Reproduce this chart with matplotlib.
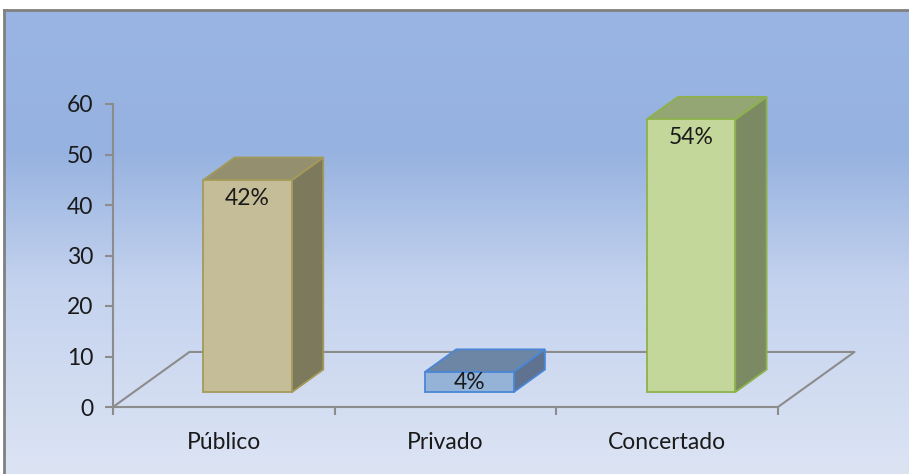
import numpy as np
import matplotlib.pyplot as plt
from matplotlib.colors import LinearSegmentedColormap

# data
categories = ['Público', 'Privado', 'Concertado']
values = [42, 4, 54]
labels = ['42%', '4%', '54%']
yticks = [0, 10, 20, 30, 40, 50, 60]

front_colors = ['#C4BD97', '#95B3D7', '#C4D79B']
top_colors = ['#948F6E', '#6E86A6', '#94A674']
side_colors = ['#7C795C', '#5F7391', '#7B8A62']
edge_colors = ['#A39A5A', '#4A86D6', '#8DB24C']

plt.rcParams['font.family'] = ['Lato', 'DejaVu Sans']

W, H = 909, 474
fig = plt.figure(figsize=(W / 100, H / 100), dpi=100)

# background with gradient and grey frame
bg = fig.add_axes([4 / W, 0, 1 - 4 / W, 1 - 10 / H])
cmap = LinearSegmentedColormap.from_list(
    'bg', [(0, '#9AB5E3'), (0.3, '#96B2E0'), (0.6, '#C5D3EE'), (1.0, '#DCE4F4')])
grad = np.linspace(0, 1, 256).reshape(-1, 1)
bg.imshow(grad, aspect='auto', cmap=cmap, extent=[0, 1, 0, 1], origin='upper')
bg.set_xlim(0, 1)
bg.set_ylim(0, 1)
bg.set_xticks([])
bg.set_yticks([])
for s in ['right', 'bottom']:
    bg.spines[s].set_visible(False)
for s in ['left', 'top']:
    bg.spines[s].set_color('#808080')
    bg.spines[s].set_linewidth(2)

# main axes: x -0.5..2.5 -> px 113..778, y 0..60 -> px 407..104
ax = fig.add_axes([113 / W, (H - 407) / H, 665 / W, 303 / H])
ax.patch.set_visible(False)
ax.set_xlim(-0.5, 2.5)
ax.set_ylim(0, 60)

# oblique depth (full floor depth, in data units)
DX, DY = 0.345, 10.9
D_FRONT, D_BACK = 0.27, 0.68
half_w = 0.2
shift = 0.014


def proj(x, y, d):
    return x + d * DX, y + d * DY


# floor outline
fx = [-0.5, proj(-0.5, 0, 1)[0], proj(2.5, 0, 1)[0], 2.5]
fy = [0, proj(-0.5, 0, 1)[1], proj(2.5, 0, 1)[1], 0]
ax.plot(fx, fy, color='#8C8C8C', lw=1.5, clip_on=False, zorder=1)

for i, v in enumerate(values):
    x0, x1 = i + shift - half_w, i + shift + half_w
    f = [proj(x0, 0, D_FRONT), proj(x1, 0, D_FRONT), proj(x1, v, D_FRONT), proj(x0, v, D_FRONT)]
    t = [proj(x0, v, D_FRONT), proj(x1, v, D_FRONT), proj(x1, v, D_BACK), proj(x0, v, D_BACK)]
    s = [proj(x1, 0, D_FRONT), proj(x1, 0, D_BACK), proj(x1, v, D_BACK), proj(x1, v, D_FRONT)]
    for poly, col in [(s, side_colors[i]), (t, top_colors[i]), (f, front_colors[i])]:
        ax.fill([p[0] for p in poly], [p[1] for p in poly], facecolor=col,
                edgecolor=edge_colors[i], lw=1.3, clip_on=False, zorder=3, joinstyle='miter')
    ly = v - 3.6 if v > 10 else v / 2
    lx, lyy = proj(i + shift, ly, D_FRONT)
    ax.text(lx, lyy, labels[i], ha='center', va='center', fontsize=16.5,
            color='#1a1a1a', zorder=5)

ax.set_yticks(yticks)
ax.set_xticks([-0.5, 0.5, 1.5, 2.5])
ax.set_xticklabels([])
ax.set_xticks([0, 1, 2], minor=True)
ax.set_xticklabels(categories, minor=True)
ax.tick_params(axis='x', which='minor', length=0, pad=18, labelsize=16.5, labelcolor='#1a1a1a')
ax.tick_params(axis='x', which='major', length=6, width=1.5, color='#8C8C8C', direction='out')
ax.tick_params(axis='y', length=6, width=1.5, color='#8C8C8C', direction='out',
               labelsize=16.5, labelcolor='#1a1a1a', pad=8)
for s in ['top', 'right']:
    ax.spines[s].set_visible(False)
for s in ['left', 'bottom']:
    ax.spines[s].set_color('#8C8C8C')
    ax.spines[s].set_linewidth(1.5)

fig.savefig('out.png', dpi=100)
